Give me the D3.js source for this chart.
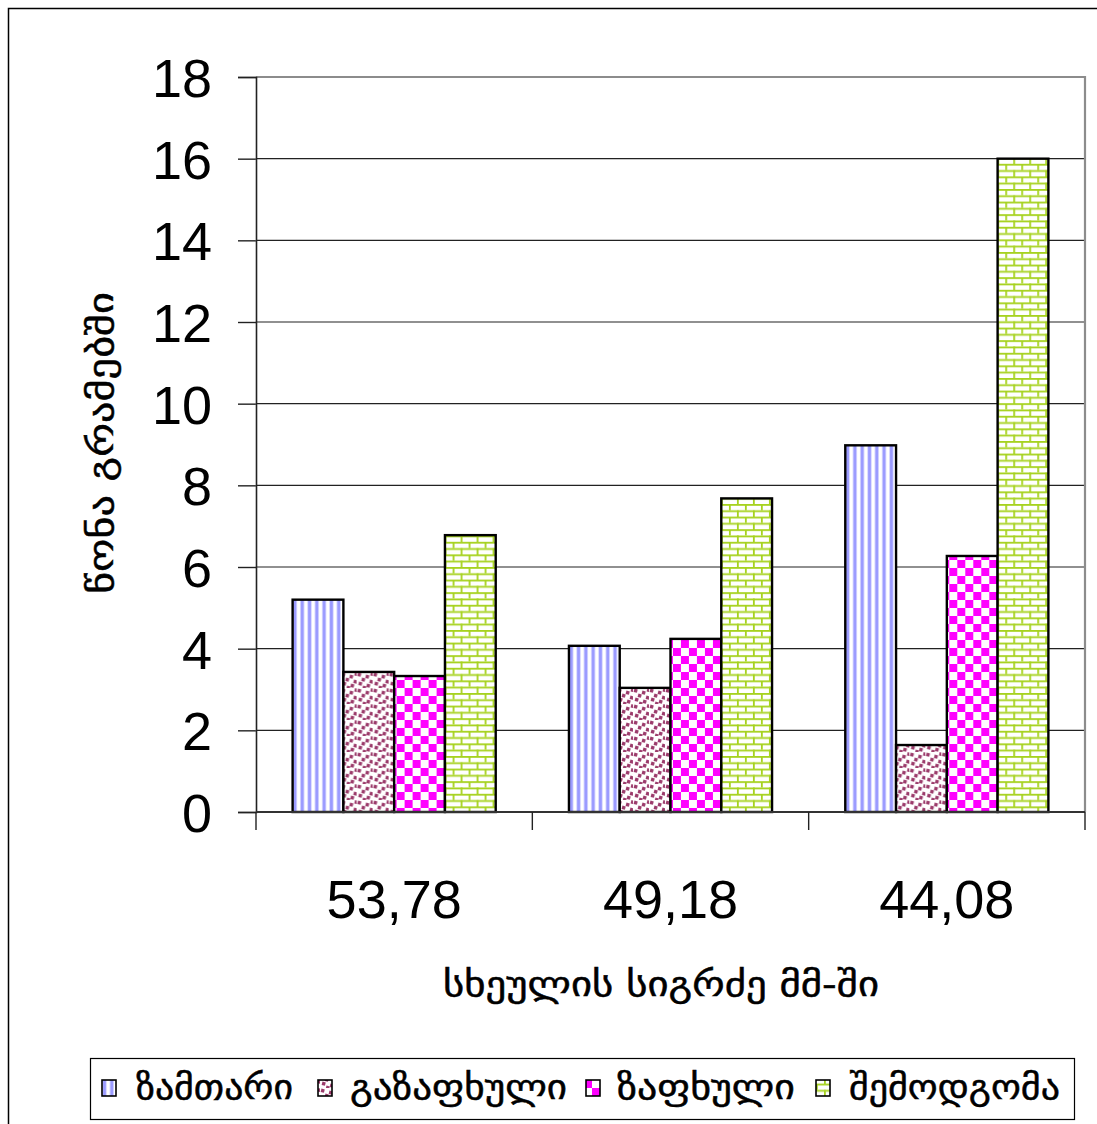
<!DOCTYPE html>
<html><head><meta charset="utf-8">
<script src="https://cdn.jsdelivr.net/npm/d3@7"></script>
<style>html,body{margin:0;padding:0;background:#fff;overflow:hidden}</style>
</head><body><svg id="c" width="1097" height="1124"></svg>
<script>
const categories = ["53,78", "49,18", "44,08"];
const seriesNames = ["ზამთარი", "გაზაფხული", "ზაფხული", "შემოდგომა"];
const winter = [5.2, 4.07, 8.98];
const spring = [3.43, 3.04, 1.64];
const summer = [3.33, 4.24, 6.27];
const autumn = [6.78, 7.68, 16.0];
const yTicks = [0, 2, 4, 6, 8, 10, 12, 14, 16, 18];
const yTitle = "წონა გრამებში";
const xTitle = "სხეულის სიგრძე მმ-ში";

const series = [winter, spring, summer, autumn];
const svg = d3.select("#c");
const geo = "'DejaVu Sans', sans-serif";
const num = "'Liberation Sans', Arial, sans-serif";

// patterns
const defs = svg.append("defs");
const pIds = ["pWinter", "pSpring", "pSummer", "pAutumn"];
{
  const p = defs.append("pattern").attr("id", pIds[0]).attr("patternUnits", "userSpaceOnUse")
    .attr("width", 7.3).attr("height", 10);
  p.append("rect").attr("width", 7.3).attr("height", 10).attr("fill", "#fff");
  p.append("rect").attr("x", 0.3).attr("width", 4).attr("height", 10).attr("fill", "#c4c4ff");
  p.append("rect").attr("x", 1).attr("width", 2.6).attr("height", 10).attr("fill", "#9a9aff");
}
{
  const p = defs.append("pattern").attr("id", pIds[1]).attr("patternUnits", "userSpaceOnUse")
    .attr("width", 16).attr("height", 16);
  p.append("rect").attr("width", 16).attr("height", 16).attr("fill", "#fff");
  const dots = [[1,1],[9,3],[5,6],[13,8],[2,10],[10,12],[6,14],[14,0.5]];
  dots.forEach(([dx,dy]) => p.append("rect").attr("x", dx).attr("y", dy).attr("width", 3.4).attr("height", 3.4)
    .attr("fill", "#9b3b6b").attr("transform", `rotate(15 ${dx+1.7} ${dy+1.7})`));
}
{
  const p = defs.append("pattern").attr("id", pIds[2]).attr("patternUnits", "userSpaceOnUse")
    .attr("width", 16).attr("height", 16);
  p.append("rect").attr("width", 16).attr("height", 16).attr("fill", "#fff");
  p.append("rect").attr("width", 8).attr("height", 8).attr("fill", "#ff00ff");
  p.append("rect").attr("x", 8).attr("y", 8).attr("width", 8).attr("height", 8).attr("fill", "#ff00ff");
}
{
  const p = defs.append("pattern").attr("id", pIds[3]).attr("patternUnits", "userSpaceOnUse")
    .attr("width", 16).attr("height", 12.6);
  p.append("rect").attr("width", 16).attr("height", 12.6).attr("fill", "#fff");
  const c = "#a6d21e";
  p.append("rect").attr("x", 0).attr("y", 0).attr("width", 16).attr("height", 1.8).attr("fill", c);
  p.append("rect").attr("x", 0).attr("y", 6.3).attr("width", 16).attr("height", 1.8).attr("fill", c);
  p.append("rect").attr("x", 0).attr("y", 0).attr("width", 1.8).attr("height", 6.3).attr("fill", c);
  p.append("rect").attr("x", 8).attr("y", 6.3).attr("width", 1.8).attr("height", 6.3).attr("fill", c);
}

// outer border
svg.append("rect").attr("x", 8.5).attr("y", 8.5).attr("width", 1200).attr("height", 1200)
  .attr("fill", "none").attr("stroke", "#000").attr("stroke-width", 1.5);

const pLeft = 256, pRight = 1085, pTop = 77, pBottom = 812;
const x = d3.scaleBand().domain(categories).range([pLeft, pRight]).paddingInner(0.265).paddingOuter(0.1325);
const sub = d3.scaleBand().domain(d3.range(series.length)).range([0, x.bandwidth()]);
const y = d3.scaleLinear().domain([0, 18]).range([pBottom, pTop]);

// gridlines
svg.append("g").selectAll("line").data(yTicks.filter(t => t > 0 && t < 18)).join("line")
  .attr("x1", pLeft).attr("x2", pRight).attr("y1", d => y(d)).attr("y2", d => y(d))
  .attr("stroke", "#222").attr("stroke-width", 1.2);

// plot border top/right (gray)
svg.append("path").attr("d", `M${pLeft},${y(18)}H${pRight}V${pBottom}`)
  .attr("fill", "none").attr("stroke", "#8c8c8c").attr("stroke-width", 2.2);

// bars
const gCat = svg.append("g").selectAll("g").data(categories).join("g")
  .attr("transform", d => `translate(${x(d)},0)`);
gCat.selectAll("rect").data((c, ci) => series.map((s, si) => ({si, v: s[ci]}))).join("rect")
  .attr("x", d => sub(d.si)).attr("width", sub.bandwidth())
  .attr("y", d => y(d.v)).attr("height", d => y(0) - y(d.v))
  .attr("fill", d => `url(#${pIds[d.si]})`).attr("stroke", "#000").attr("stroke-width", 2.4);

// y axis
const yAxis = svg.append("g").attr("transform", `translate(${pLeft},0)`)
  .call(d3.axisLeft(y).tickValues(yTicks).tickSize(18).tickPadding(26).tickFormat(d3.format("d")));
yAxis.select(".domain").attr("stroke", "#222").attr("stroke-width", 1.6);
yAxis.selectAll(".tick line").attr("stroke", "#222").attr("stroke-width", 1.4);
yAxis.selectAll(".tick text").attr("font-family", num).attr("font-size", 54).attr("fill", "#000").attr("dy", "0.36em");

// x axis
const xAxis = svg.append("g").attr("transform", `translate(0,${pBottom})`)
  .call(d3.axisBottom(x).tickSize(0).tickPadding(0));
xAxis.select(".domain").remove();
xAxis.selectAll(".tick line").remove();
xAxis.selectAll(".tick text").attr("font-family", num).attr("font-size", 54).attr("fill", "#000")
  .attr("y", 106).attr("dy", 0);
svg.append("line").attr("x1", pLeft).attr("x2", pRight).attr("y1", pBottom).attr("y2", pBottom)
  .attr("stroke", "#333").attr("stroke-width", 2.2);
const xt = [pLeft].concat(categories.map(c => x(c) + x.bandwidth() + x.step() * x.paddingInner() / 2));
xt[xt.length - 1] = pRight;
svg.append("g").selectAll("line").data(xt).join("line")
  .attr("x1", d => d).attr("x2", d => d).attr("y1", pBottom).attr("y2", pBottom + 18)
  .attr("stroke", "#222").attr("stroke-width", 1.4);

// titles
svg.append("text").attr("x", 661).attr("y", 996).attr("text-anchor", "middle")
  .attr("font-family", geo).attr("font-size", 35).attr("stroke", "#000").attr("stroke-width", 0.5)
  .attr("textLength", 436).attr("lengthAdjust", "spacingAndGlyphs")
  .text(xTitle);
svg.append("text").attr("transform", "translate(113,443) rotate(-90)").attr("text-anchor", "middle")
  .attr("font-family", geo).attr("font-size", 34).attr("stroke", "#000").attr("stroke-width", 0.5)
  .attr("textLength", 302).attr("lengthAdjust", "spacingAndGlyphs")
  .text(yTitle);

// legend
svg.append("rect").attr("x", 90.5).attr("y", 1058.5).attr("width", 984).attr("height", 61)
  .attr("fill", "#fff").attr("stroke", "#000").attr("stroke-width", 1.2);
const legSw = [102, 318, 586, 816];
const legTx = [[136, 157], [350, 217], [617, 178], [849, 211]];
seriesNames.forEach((n, i) => {
  svg.append("rect").attr("x", legSw[i]).attr("y", 1080).attr("width", 14).attr("height", 16)
    .attr("fill", `url(#${pIds[i]})`).attr("stroke", "#000").attr("stroke-width", 1.6);
  svg.append("text").attr("x", legTx[i][0]).attr("y", 1099).attr("font-family", geo).attr("font-size", 34)
    .attr("stroke", "#000").attr("stroke-width", 0.5)
    .attr("textLength", legTx[i][1]).attr("lengthAdjust", "spacingAndGlyphs").text(n);
});
</script></body></html>
